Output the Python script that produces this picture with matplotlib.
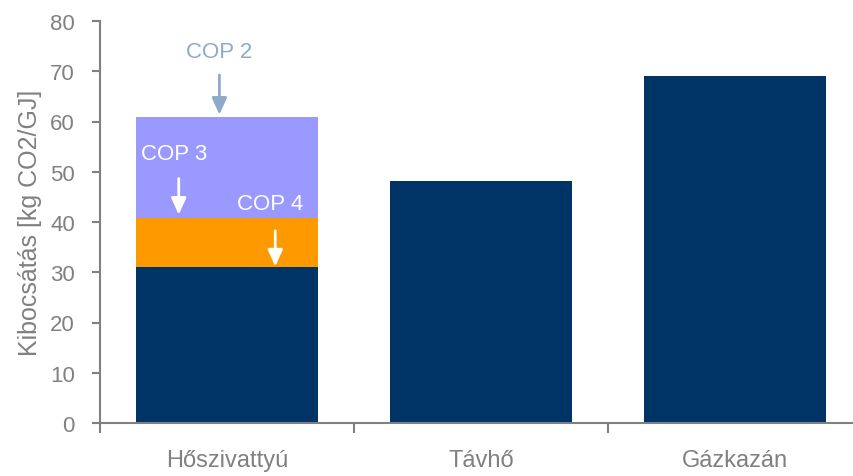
import matplotlib
matplotlib.use("Agg")
import matplotlib.pyplot as plt

categories = ["Hőszivattyú", "Távhő", "Gázkazán"]
base_values = [31.0, 48.2, 69.0]          # dark bars (COP 4 level for heat pump)
cop3_extra = [9.7, 0.0, 0.0]              # COP 3 increment
cop2_extra = [20.1, 0.0, 0.0]             # COP 2 increment
yticks = [0, 10, 20, 30, 40, 50, 60, 70, 80]

navy = "#003366"
orange = "#FF9900"
lavender = "#9999FF"
gray = "#808080"
cop2_color = "#8EA9CC"

plt.rcParams["font.family"] = ["Liberation Sans", "DejaVu Sans"]

fig = plt.figure(figsize=(8.54, 4.77), dpi=100)
ax = fig.add_axes([100 / 854, 53 / 477, 762 / 854, 402 / 477])

x = list(range(len(categories)))
w = 0.715
ax.bar(x, base_values, width=w, color=navy)
b2 = [b + c for b, c in zip(base_values, cop3_extra)]
ax.bar(x, cop3_extra, width=w, bottom=base_values, color=orange)
ax.bar(x, cop2_extra, width=w, bottom=b2, color=lavender)

ax.set_xlim(-0.5, 2.5)
ax.set_ylim(0, 80)
ax.set_yticks(yticks)
ax.set_xticks([-0.5, 0.5, 1.5, 2.5], minor=False)
ax.set_xticklabels([])
ax.set_xticks(x, minor=True)
ax.set_xticklabels(categories, minor=True, fontsize=17, color=gray)
ax.tick_params(axis="x", which="minor", length=0, pad=19)
ax.tick_params(axis="x", which="major", length=7, width=1.5, color=gray, direction="out")
ax.tick_params(axis="y", length=6, width=1.5, color=gray, labelcolor=gray,
               labelsize=16, pad=12)

for side in ["top", "right"]:
    ax.spines[side].set_visible(False)
for side in ["left", "bottom"]:
    ax.spines[side].set_color(gray)
    ax.spines[side].set_linewidth(1.5)

ax.set_ylabel("Kibocsátás [kg CO2/GJ]", fontsize=18, color=gray, labelpad=6)

# COP annotations
head = "-|>,head_width=0.45,head_length=1.0"
ax.text(-0.03, 74.0, "COP 2", color=cop2_color, fontsize=16, ha="center", va="center")
ax.annotate("", xy=(-0.03, 60.8), xytext=(-0.03, 69.8),
            arrowprops=dict(arrowstyle=head, color=cop2_color, lw=2))
ax.text(-0.21, 53.6, "COP 3", color="white", fontsize=16, ha="center", va="center")
ax.annotate("", xy=(-0.19, 40.9), xytext=(-0.19, 49.2),
            arrowprops=dict(arrowstyle=head, color="white", lw=2))
ax.text(0.17, 43.6, "COP 4", color="white", fontsize=16, ha="center", va="center")
ax.annotate("", xy=(0.19, 30.6), xytext=(0.19, 38.8),
            arrowprops=dict(arrowstyle=head, color="white", lw=2))

fig.savefig("out.png", dpi=100)
